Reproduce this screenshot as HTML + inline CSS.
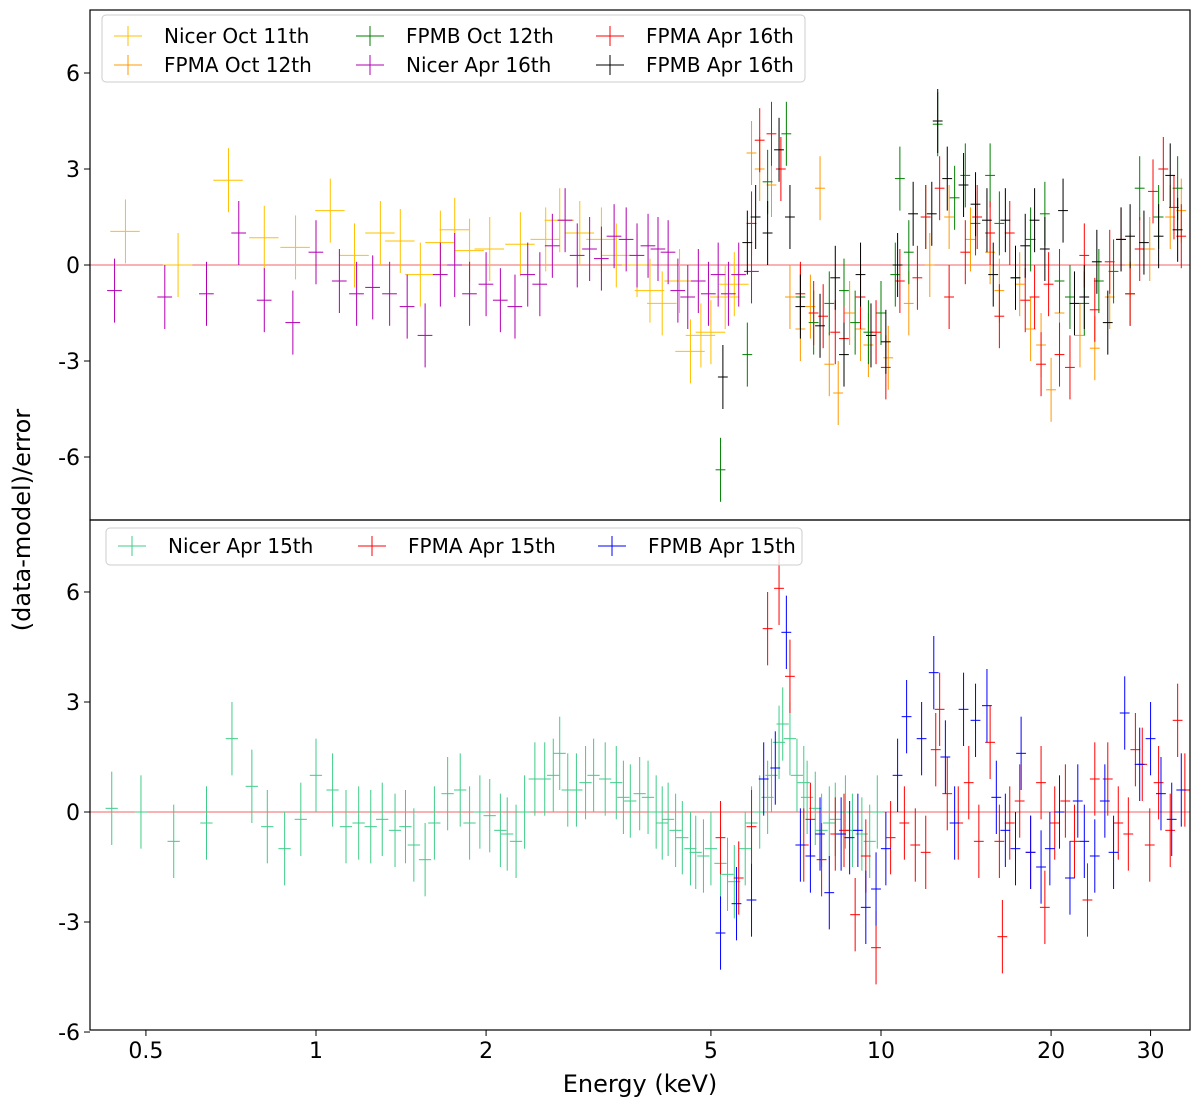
<!DOCTYPE html>
<html><head><meta charset="utf-8"><style>
body{margin:0;background:#fff;}
svg{font-family:"DejaVu Sans","Liberation Sans",sans-serif;}
</style></head><body>
<svg id="c" width="1200" height="1105" xmlns="http://www.w3.org/2000/svg"></svg>
<script>
// ---- data: [energy keV, residual] ----
const nicerOct11=[[0.46,1.05],[0.57,0],[0.70,2.65],[0.81,0.85],[0.92,0.55],[1.06,1.7],[1.17,0.3],[1.3,1.0],[1.41,0.75],[1.53,-0.3],[1.66,0.7],[1.76,1.1],[1.87,0.45],[2.03,0.5],[2.3,0.65],[2.55,0.8],[2.7,1.4],[2.93,1.0],[3.2,0.8],[3.4,0.3],[3.7,0],[3.9,-0.8],[4.1,-1.2],[4.4,-0.5],[4.6,-2.7],[4.8,-2.2],[5.0,-2.1],[5.3,-1.0],[5.5,-0.6]];
const fpmaOct12=[[5.9,3.5],[6.1,3.0],[6.4,2.5],[6.9,-1.0],[7.2,-2.0],[7.5,-1.3],[7.8,2.4],[8.1,-3.1],[8.4,-4.0],[8.8,-1.5],[9.2,-2.0],[9.5,-2.5],[10.3,-2.9],[11.2,-1.2],[12.2,0],[13.2,1.5],[14.4,0.8],[15.6,0.4],[16.2,-0.8],[17.6,-0.6],[18.4,-2.0],[19.2,-2.5],[20,-3.9],[20.7,-1.5],[22.5,-2.2],[23.9,-2.6],[25.4,-1.0],[27.6,0],[29.9,0.5],[32.5,1.5],[34,1.7]];
const fpmbOct12=[[5.2,-6.4],[5.8,-2.8],[6.3,2.6],[6.8,4.1],[7.2,-1.0],[7.6,-1.8],[8.1,-1.2],[8.6,-0.8],[9.0,-1.8],[9.5,-2.1],[10,-1.5],[10.6,-0.3],[10.8,2.7],[11.2,0.4],[12.0,1.5],[12.6,4.4],[13.5,2.1],[14.1,2.8],[14.7,1.3],[15.6,2.8],[16.2,1.3],[17.3,-0.4],[18.4,0.8],[19.5,1.6],[20.7,-0.5],[21.6,-1.0],[22.9,-1.2],[24.3,-0.5],[25.8,-0.2],[27.6,-0.9],[28.7,2.4],[31,1.5],[33.5,2.4]];
const nicerApr16=[[0.44,-0.8],[0.54,-1.0],[0.64,-0.9],[0.73,1.0],[0.81,-1.1],[0.91,-1.8],[1.0,0.4],[1.1,-0.5],[1.18,-0.9],[1.26,-0.7],[1.35,-0.9],[1.45,-1.3],[1.56,-2.2],[1.66,-0.3],[1.76,0],[1.87,-0.9],[2.0,-0.6],[2.12,-1.1],[2.25,-1.3],[2.37,-0.3],[2.49,-0.6],[2.62,0.6],[2.76,1.4],[2.9,0.3],[3.05,0.5],[3.2,0.2],[3.37,0.9],[3.54,0.8],[3.7,0.3],[3.87,0.6],[4.03,0.5],[4.2,0.4],[4.37,-0.8],[4.55,-1.0],[4.75,-0.5],[4.95,-0.9],[5.15,-0.3],[5.37,-0.9],[5.6,-0.3],[5.9,-0.2]];
const fpmaApr16=[[5.9,1.3],[6.1,3.9],[6.4,4.1],[6.65,3.0],[7.2,-0.9],[7.6,-1.5],[7.9,-1.6],[8.3,-2.1],[8.6,-2.3],[9.2,-1.0],[9.8,-2.1],[10.2,-3.2],[10.8,-0.5],[11.6,-0.4],[12.0,1.5],[12.7,2.4],[13.2,-1.0],[14.1,0.4],[14.8,1.5],[15.6,1.0],[16.2,-1.6],[16.9,1.0],[18,-1.1],[18.7,-1.0],[19.2,-3.1],[19.8,-0.6],[20.7,-2.8],[21.6,-3.2],[22.9,0.3],[23.9,-1.4],[25.4,0.1],[26.6,0.8],[27.6,-0.9],[28.7,0.5],[30.3,2.3],[31.6,3.0],[33,1.8],[34,0.9]];
const fpmbApr16=[[5.25,-3.5],[5.8,0.7],[6.0,1.5],[6.3,1.0],[6.6,3.6],[6.9,1.5],[7.2,-1.3],[7.8,-1.9],[8.3,-0.4],[8.6,-2.8],[9.2,-0.3],[9.6,-2.2],[10.2,-2.4],[10.7,0],[11.4,1.6],[12.3,1.6],[12.6,4.5],[13.1,2.7],[14,2.5],[14.7,1.9],[15.4,1.4],[15.8,-0.3],[16.6,1.4],[17.3,-0.4],[18,0.6],[18.7,1.4],[19.5,0.5],[21,1.7],[22,-1.2],[22.9,-1.0],[24.1,0.1],[25.2,-1.8],[26.6,0.8],[27.6,0.9],[29.2,0.7],[31,0.9],[32.5,2.8],[33.5,1.1]];
const nicerApr15=[[0.435,0.1],[0.49,0],[0.56,-0.8],[0.64,-0.3],[0.71,2.0],[0.77,0.7],[0.82,-0.4],[0.88,-1.0],[0.94,-0.2],[1.0,1.0],[1.07,0.6],[1.13,-0.4],[1.19,-0.3],[1.25,-0.4],[1.31,-0.2],[1.38,-0.5],[1.44,-0.4],[1.49,-0.9],[1.56,-1.3],[1.62,-0.3],[1.71,0.5],[1.8,0.6],[1.87,-0.3],[1.95,0],[2.03,-0.1],[2.12,-0.5],[2.18,-0.6],[2.26,-0.8],[2.34,0],[2.44,0.9],[2.54,0.9],[2.63,1.0],[2.7,1.6],[2.79,0.6],[2.89,0.6],[3.0,0.8],[3.1,1.0],[3.25,0.9],[3.4,0.8],[3.5,0.4],[3.6,0.3],[3.74,0.5],[3.87,0.4],[4.0,0],[4.1,-0.3],[4.2,-0.2],[4.33,-0.5],[4.45,-0.7],[4.6,-1.0],[4.7,-1.1],[4.85,-1.2],[5.0,-1.0],[5.2,-1.4],[5.35,-1.7],[5.5,-1.9],[5.75,-1.0],[5.9,-0.3],[6.1,0],[6.3,0.4],[6.4,1.0],[6.6,1.9],[6.7,2.4],[6.9,2.0],[7.1,1.0],[7.3,0.8],[7.4,0.4],[7.65,0.1],[7.85,-0.5],[8.1,-0.3],[8.3,-0.2],[8.65,0],[8.9,-0.5],[9.25,-0.6],[9.55,-0.8],[9.85,0]];
const fpmaApr15=[[5.2,-0.7],[5.6,-1.8],[5.9,-0.4],[6.3,5.0],[6.6,6.1],[6.9,3.7],[7.3,-0.9],[7.5,-0.2],[7.85,-1.3],[8.3,-0.6],[8.6,-0.5],[9.0,-2.8],[9.4,-1.2],[9.8,-3.7],[10.4,-0.7],[11.0,-0.3],[11.5,-0.9],[12.0,-1.1],[12.5,1.7],[12.7,2.8],[13.1,0.5],[13.7,-0.3],[14.3,0.8],[14.9,-0.8],[15.6,1.9],[16.2,-0.8],[16.4,-3.4],[16.9,-0.3],[17.6,0.3],[18.4,-1.1],[19.2,0.8],[19.5,-2.6],[20.3,-0.3],[21.2,0.3],[22.0,-0.8],[23.2,-2.4],[23.9,0.9],[25.2,0.9],[26.3,-0.3],[27.4,-0.6],[28.2,1.7],[29,1.3],[29.9,-0.9],[31,0.8],[32.5,-0.5],[33.5,2.5],[34.5,0.6]];
const fpmbApr15=[[5.2,-3.3],[5.55,-2.5],[5.9,-2.4],[6.2,0.9],[6.5,1.2],[6.8,4.9],[7.2,-0.9],[7.5,-1.2],[7.8,-0.6],[8.1,-2.2],[8.5,-0.6],[8.8,-0.7],[9.1,-0.5],[9.4,-2.6],[9.8,-2.1],[10.2,-1.0],[10.7,1.0],[11.1,2.6],[11.8,2.0],[12.4,3.8],[13.0,1.5],[13.5,-0.3],[14.0,2.8],[14.7,2.5],[15.4,2.9],[16.0,0.4],[16.6,-0.5],[17.3,-1.0],[17.7,1.6],[18.4,-1.1],[19.2,-1.5],[19.9,-1.0],[20.7,0],[21.6,-1.8],[22.3,0.3],[22.9,-0.8],[23.9,-1.2],[24.9,0.3],[25.8,-1.1],[27,2.7],[28.7,1.3],[30,2.0],[31.3,0.5],[32.7,-0.2],[34,0.6]];
const xTicks=[0.5,1,2,5,10,20,30];
const xTickLabels=["0.5","1","2","5","10","20","30"];
const yTicksTop=[6,3,0,-3,-6];
const yTicksBot=[6,3,0,-3,-6];

const svg=document.getElementById('c');
const NS='http://www.w3.org/2000/svg';
const L=90,R=1190;
const xs=e=>316+565*Math.log10(e);
const topY=v=>265-32*v;
const botY=v=>812-36.67*v;
function mk(tag,attrs,name,txt){const el=document.createElementNS(NS,tag);for(const k in attrs)el.setAttribute(k,attrs[k]);


if(txt!==undefined)el.textContent=txt;svg.appendChild(el);return el;}
function series(data,ys,color,xf,name){
 data.forEach(([e,v])=>{
  const x=xs(e),y=ys(v);
  mk('line',{x1:xs(e*(1-xf)),x2:xs(e*(1+xf)),y1:y,y2:y,stroke:color,'stroke-width':1},name+'-xerr');
  mk('line',{x1:x,x2:x,y1:ys(v+1),y2:ys(v-1),stroke:color,'stroke-width':1},name+'-yerr');
 });
}
mk('line',{x1:L,x2:R,y1:topY(0),y2:topY(0),stroke:'#e33','stroke-width':0.8},'zero-line-top');
mk('line',{x1:L,x2:R,y1:botY(0),y2:botY(0),stroke:'#e33','stroke-width':0.8},'zero-line-bottom');
series(nicerOct11,topY,'#ffc000',0.06,'nicer-oct11');
series(nicerApr16,topY,'#b000b0',0.03,'nicer-apr16');
series(fpmaOct12,topY,'#ff9900',0.02,'fpma-oct12');
series(fpmbOct12,topY,'#007f00',0.02,'fpmb-oct12');
series(fpmaApr16,topY,'#ff0000',0.02,'fpma-apr16');
series(fpmbApr16,topY,'#000000',0.02,'fpmb-apr16');
series(nicerApr15,botY,'#3fcc88',0.025,'nicer-apr15');
series(fpmaApr15,botY,'#ff0000',0.02,'fpma-apr15');
series(fpmbApr15,botY,'#0000ff',0.02,'fpmb-apr15');
mk('rect',{x:L,y:10,width:R-L,height:510,fill:'none',stroke:'#000','stroke-width':1.2},'top-panel-frame');
mk('rect',{x:L,y:520,width:R-L,height:510,fill:'none',stroke:'#000','stroke-width':1.2},'bottom-panel-frame');
yTicksTop.forEach(t=>{const y=topY(t);mk('line',{x1:L-6,x2:L,y1:y,y2:y,stroke:'#000'},'y-tick-top');
 mk('text',{x:L-10,y:y+8,'text-anchor':'end','font-size':22},'y-tick-label-top',String(t));});
yTicksBot.forEach(t=>{const y=botY(t);mk('line',{x1:L-6,x2:L,y1:y,y2:y,stroke:'#000'},'y-tick-bottom');
 mk('text',{x:L-10,y:y+8,'text-anchor':'end','font-size':22},'y-tick-label-bottom',String(t));});
xTicks.forEach((t,i)=>{const x=xs(t);mk('line',{x1:x,x2:x,y1:1030,y2:1036,stroke:'#000'},'x-tick');
 mk('text',{x:x,y:1058,'text-anchor':'middle','font-size':22},'x-tick-label',xTickLabels[i]);});
mk('text',{x:640,y:1092,'text-anchor':'middle','font-size':24},'x-axis-title','Energy (keV)');
mk('text',{x:30,y:520,'text-anchor':'middle','font-size':24,transform:'rotate(-90 30 520)'},'y-axis-title','(data-model)/error');
mk('rect',{x:102,y:15,width:703,height:67,rx:4,fill:'#fff','fill-opacity':0.8,stroke:'#ccc'},'legend-top');
const legTop=[['Nicer Oct 11th','#ffc000',128,36],['FPMA Oct 12th','#ff9900',128,65],['FPMB Oct 12th','#007f00',370,36],['Nicer Apr 16th','#b000b0',370,65],['FPMA  Apr 16th','#ff0000',610,36],['FPMB Apr 16th','#000000',610,65]];
mk('rect',{x:106,y:528,width:696,height:37,rx:4,fill:'#fff','fill-opacity':0.8,stroke:'#ccc'},'legend-bottom');
const legBot=[['Nicer Apr 15th','#3fcc88',132,546],['FPMA Apr 15th','#ff0000',372,546],['FPMB Apr 15th','#0000ff',612,546]];
legTop.concat(legBot).forEach(([t,c,x,y])=>{
 mk('line',{x1:x-14,x2:x+14,y1:y,y2:y,stroke:c},'legend-marker');
 mk('line',{x1:x,x2:x,y1:y-10,y2:y+10,stroke:c},'legend-marker');
 mk('text',{x:x+36,y:y+7,'font-size':20,'xml:space':'preserve'},'legend-entry',t);
});
</script>
</body></html>
